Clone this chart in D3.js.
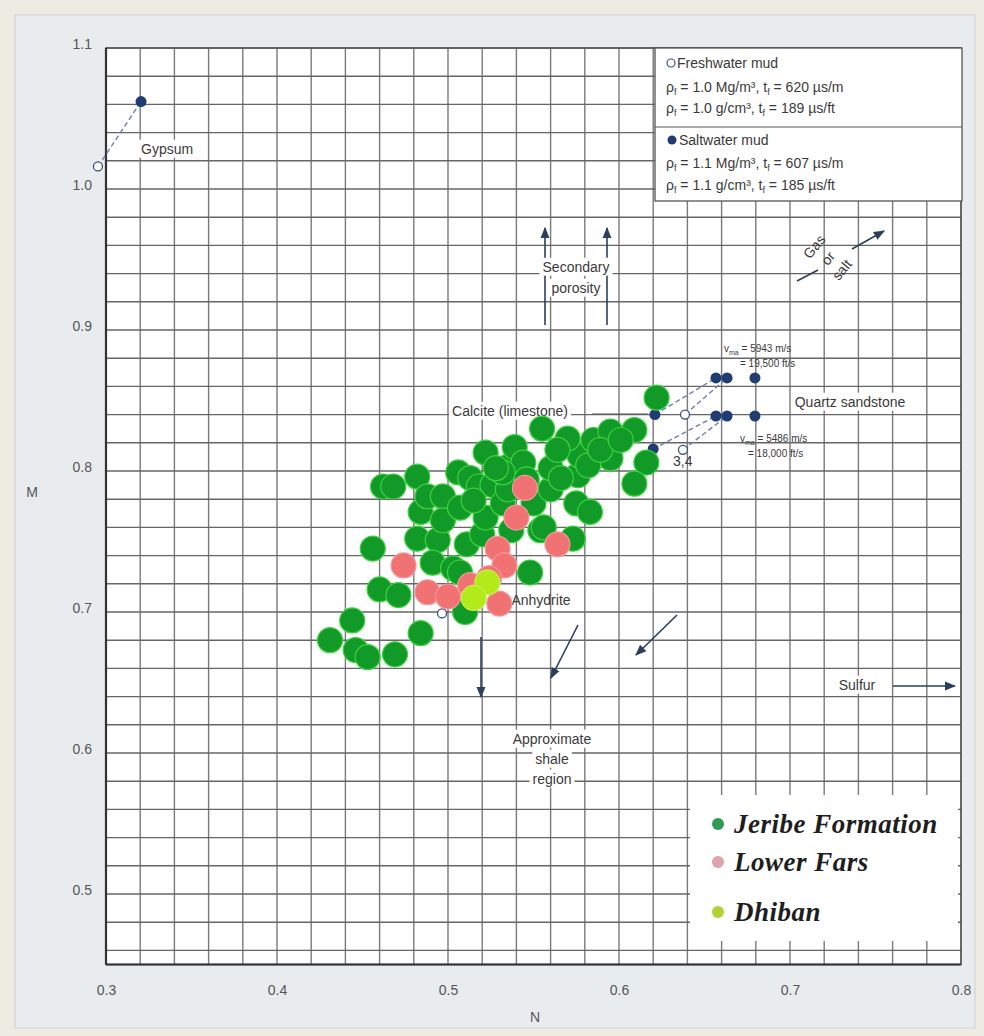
<!DOCTYPE html>
<html>
<head>
<meta charset="utf-8">
<script src="https://cdn.jsdelivr.net/npm/d3@7"></script>
<style>
  html, body { margin: 0; padding: 0; background: #eeebe3; }
  svg { display: block; font-family: "Liberation Sans", Arial, sans-serif; }
</style>
</head>
<body>
<svg id="chart" width="984" height="1036"></svg>
<script>
// ---- data: N (x) and M (y) values ----
const jeribe = [
  [0.431,0.680],[0.444,0.694],[0.446,0.673],[0.453,0.668],[0.469,0.670],[0.484,0.685],
  [0.510,0.700],[0.460,0.716],[0.471,0.712],[0.456,0.745],[0.462,0.789],[0.468,0.789],
  [0.482,0.796],[0.484,0.771],[0.482,0.752],[0.494,0.751],[0.491,0.735],[0.503,0.731],
  [0.507,0.728],[0.511,0.748],[0.520,0.755],[0.488,0.782],[0.497,0.782],[0.497,0.765],
  [0.507,0.774],[0.506,0.799],[0.513,0.795],[0.518,0.789],[0.522,0.813],[0.522,0.767],
  [0.526,0.790],[0.532,0.777],[0.535,0.803],[0.539,0.817],[0.544,0.806],[0.535,0.787],
  [0.537,0.758],[0.548,0.728],[0.554,0.758],[0.550,0.777],[0.556,0.760],[0.573,0.752],
  [0.560,0.787],[0.560,0.802],[0.575,0.777],[0.583,0.771],[0.576,0.797],[0.577,0.811],
  [0.555,0.830],[0.570,0.823],[0.585,0.822],[0.595,0.828],[0.609,0.829],[0.595,0.809],
  [0.616,0.806],[0.609,0.791],[0.622,0.852],[0.532,0.799],[0.582,0.804],[0.564,0.815],
  [0.589,0.815],[0.601,0.822],[0.515,0.779],[0.528,0.802],[0.566,0.795],[0.546,0.794]
];
const lowerFars = [
  [0.545,0.788],[0.540,0.767],[0.529,0.745],[0.474,0.733],[0.488,0.714],[0.500,0.711],
  [0.513,0.719],[0.530,0.706],[0.533,0.733],[0.564,0.748],[0.524,0.724]
];
const dhiban = [
  [0.523,0.721],[0.515,0.710]
];

// reference mineral points
const freshwaterPts = [[0.2953,1.016],[0.6386,0.840],[0.6374,0.815],[0.4965,0.699]];
const saltwaterPts = [[0.3205,1.062],[0.621,0.840],[0.620,0.8156],
  [0.6567,0.866],[0.6632,0.866],[0.6795,0.866],[0.6567,0.839],[0.6632,0.839],[0.6795,0.839]];
const dashedLinks = [
  [[0.2953,1.016],[0.3205,1.062]],
  [[0.621,0.840],[0.6567,0.866]],
  [[0.6386,0.840],[0.6632,0.866]],
  [[0.620,0.8156],[0.6567,0.839]],
  [[0.6374,0.815],[0.6632,0.839]]
];

const xTicks = [0.3,0.4,0.5,0.6,0.7,0.8];
const yTicks = [0.5,0.6,0.7,0.8,0.9,1.0,1.1];

const svg = d3.select("#chart");

// page panel
svg.append("rect").attr("x",15).attr("y",15).attr("width",960).attr("height",1013)
  .attr("fill","#e9ecef").attr("stroke","#cfd0d0").attr("stroke-width",1);

const x = d3.scaleLinear().domain([0.3,0.8]).range([106,961]);
const y = d3.scaleLinear().domain([0.45,1.1]).range([964.5,48]);

// plot area
svg.append("rect").attr("x",x(0.3)).attr("y",y(1.1))
  .attr("width",x(0.8)-x(0.3)).attr("height",y(0.45)-y(1.1)).attr("fill","#ffffff");

// grid every 0.02
const gx = d3.range(0, 26).map(i => 0.3 + i*0.02);
const gy = d3.range(0, 33).map(i => 0.46 + i*0.02);
const grid = svg.append("g").attr("stroke-width",1.4);
grid.selectAll("line.v").data(gx).join("line").attr("class","v").attr("stroke","#7a7a7a")
  .attr("x1",d=>x(d)).attr("x2",d=>x(d)).attr("y1",y(1.1)).attr("y2",y(0.45));
grid.selectAll("line.h").data(gy).join("line").attr("class","h").attr("stroke","#666")
  .attr("x1",x(0.3)).attr("x2",x(0.8)).attr("y1",d=>y(d)).attr("y2",d=>y(d));

// frame
svg.append("rect").attr("x",x(0.3)).attr("y",y(1.1))
  .attr("width",x(0.8)-x(0.3)).attr("height",y(0.45)-y(1.1))
  .attr("fill","none").attr("stroke","#555").attr("stroke-width",1.5);
svg.append("line").attr("x1",x(0.3)).attr("x2",x(0.3)).attr("y1",y(1.1)).attr("y2",y(0.45))
  .attr("stroke","#333").attr("stroke-width",2.2);
svg.append("line").attr("x1",x(0.3)).attr("x2",x(0.8)).attr("y1",y(0.45)).attr("y2",y(0.45))
  .attr("stroke","#333").attr("stroke-width",2);

// axes
const xAxis = svg.append("g").attr("transform",`translate(0,${y(0.45)+18})`)
  .call(d3.axisBottom(x).tickValues(xTicks).tickSize(0).tickFormat(d3.format(".1f")));
const yAxis = svg.append("g").attr("transform",`translate(${x(0.3)-11},-4)`)
  .call(d3.axisLeft(y).tickValues(yTicks).tickSize(0).tickFormat(d3.format(".1f")));
[xAxis, yAxis].forEach(a => {
  a.select(".domain").remove();
  a.selectAll("text").attr("font-size",14).attr("fill","#555")
    .style("font-family","Liberation Sans, Arial, sans-serif");
});
svg.append("text").attr("x",32).attr("y",497).attr("text-anchor","middle")
  .attr("font-size",14).attr("fill","#555").text("M");
svg.append("text").attr("x",535).attr("y",1022).attr("text-anchor","middle")
  .attr("font-size",14).attr("fill","#555").text("N");

// arrow marker
const defs = svg.append("defs");
defs.append("marker").attr("id","ah").attr("viewBox","0 0 10 10").attr("refX",9).attr("refY",5)
  .attr("markerWidth",7).attr("markerHeight",7).attr("orient","auto-start-reverse")
  .append("path").attr("d","M0,1 L10,5 L0,9 Z").attr("fill","#2b3f5c");

const ann = svg.append("g");
function arrow(x1,y1,x2,y2){
  ann.append("line").attr("x1",x1).attr("y1",y1).attr("x2",x2).attr("y2",y2)
    .attr("stroke","#2b3f5c").attr("stroke-width",1.6).attr("marker-end","url(#ah)");
}
function label(txt, cx, cy, opts={}){
  const t = ann.append("text").attr("x",cx).attr("y",cy)
    .attr("text-anchor",opts.anchor||"middle").attr("dominant-baseline","middle")
    .attr("font-size",opts.size||14).attr("fill",opts.fill||"#3a3a3a").text(txt);
  if (opts.bg) {
    const b = t.node().getBBox();
    ann.insert("rect", () => t.node()).attr("x",b.x-3).attr("y",b.y-1)
      .attr("width",b.width+6).attr("height",b.height+2).attr("fill","#fff");
  }
  return t;
}

// Secondary porosity arrows
arrow(545,325,545,228);
arrow(607,325,607,228);
label("Secondary",576,268,{bg:true});
label("porosity",576,289,{bg:true});

// Gas or salt
ann.append("line").attr("x1",797).attr("y1",281).attr("x2",818).attr("y2",270)
  .attr("stroke","#2b3f5c").attr("stroke-width",1.6);
arrow(852,249,884,231);
const gs = ann.append("g").attr("transform","translate(829,259) rotate(-50)");
["Gas","or","salt"].forEach((s,i)=>{
  gs.append("text").attr("x",0).attr("y",(i-1)*18).attr("text-anchor","middle")
    .attr("dominant-baseline","middle").attr("font-size",14).attr("fill","#3a3a3a").text(s);
});

// Calcite label and leader
ann.append("line").attr("x1",592).attr("y1",414).attr("x2",648).attr("y2",414)
  .attr("stroke","#555").attr("stroke-width",1.2);
label("Calcite (limestone)",510,412,{bg:true});
label("Quartz sandstone",850,403,{bg:true});

// velocity notes
function vma(xp, yp, v1, v2, x2){
  const t = ann.append("text").attr("x",xp).attr("y",yp).attr("font-size",10).attr("fill","#3a3a3a");
  t.append("tspan").text("v");
  t.append("tspan").attr("font-size",7).attr("dy",3).text("ma");
  t.append("tspan").attr("dy",-3).text(" = " + v1);
  ann.append("text").attr("x",x2).attr("y",yp+15).attr("font-size",10).attr("fill","#3a3a3a").text(v2);
}
vma(724,352,"5943 m/s","= 19,500 ft/s",740);
vma(740,442,"5486 m/s","= 18,000 ft/s",748);
label("3,4",673,462,{anchor:"start"});

// Anhydrite (under the points)
label("Anhydrite",541,601,{bg:false});

// shale arrows and label
arrow(481,637,481,697);
arrow(578,625,551,678);
arrow(677,615,636,655);
label("Approximate",552,740,{bg:true});
label("shale",552,760,{bg:true});
label("region",552,780,{bg:true});

// Sulfur
label("Sulfur",857,686,{bg:true});
arrow(893,686,955,686);

// Gypsum
label("Gypsum",141,150,{anchor:"start",bg:true});

// reference mineral marks
svg.append("g").selectAll("line").data(dashedLinks).join("line")
  .attr("x1",d=>x(d[0][0])).attr("y1",d=>y(d[0][1]))
  .attr("x2",d=>x(d[1][0])).attr("y2",d=>y(d[1][1]))
  .attr("stroke","#6a7fa8").attr("stroke-width",1.4).attr("stroke-dasharray","5,3");
svg.append("g").selectAll("circle").data(saltwaterPts).join("circle")
  .attr("cx",d=>x(d[0])).attr("cy",d=>y(d[1])).attr("r",5.5).attr("fill","#1f3c73");
svg.append("g").selectAll("circle").data(freshwaterPts).join("circle")
  .attr("cx",d=>x(d[0])).attr("cy",d=>y(d[1])).attr("r",4.5)
  .attr("fill","#fff").attr("stroke","#35507f").attr("stroke-width",1.3);

// sample points
function dots(data, fill, stroke){
  svg.append("g").selectAll("circle").data(data).join("circle")
    .attr("cx",d=>x(d[0])).attr("cy",d=>y(d[1])).attr("r",12.5)
    .attr("fill",fill).attr("stroke",stroke).attr("stroke-width",1.2);
}
dots(jeribe,"#119a28","#3dd33d");
dots(lowerFars,"#f07272","#f59a9a");
dots(dhiban,"#b2ea1a","#c8f050");

// top-right legend
const lg = svg.append("g");
lg.append("rect").attr("x",655).attr("y",48).attr("width",307).attr("height",153)
  .attr("fill","#fff").attr("stroke","#555").attr("stroke-width",1.3);
lg.append("line").attr("x1",655).attr("x2",962).attr("y1",127).attr("y2",127)
  .attr("stroke","#555").attr("stroke-width",1.2);
lg.append("circle").attr("cx",671).attr("cy",63).attr("r",4).attr("fill","#fff")
  .attr("stroke","#35507f").attr("stroke-width",1.2);
lg.append("circle").attr("cx",672).attr("cy",140).attr("r",4.5).attr("fill","#1f3c73");
function ltext(xp, yp, parts){
  const t = lg.append("text").attr("x",xp).attr("y",yp).attr("font-size",14).attr("fill","#3a3a3a");
  parts.forEach(p=>{
    const s = t.append("tspan").text(p[0]);
    if (p[1]==="sub") s.attr("font-size",9).attr("dy",3);
    if (p[1]==="up") s.attr("dy",-3);
  });
}
ltext(677,68,[["Freshwater mud"]]);
ltext(666,92,[["ρ"],["f","sub"],[" = 1.0 Mg/m³, t","up"],["f","sub"],[" = 620 µs/m","up"]]);
ltext(666,113,[["ρ"],["f","sub"],[" = 1.0 g/cm³, t","up"],["f","sub"],[" = 189 µs/ft","up"]]);
ltext(679,145,[["Saltwater mud"]]);
ltext(666,168,[["ρ"],["f","sub"],[" = 1.1 Mg/m³, t","up"],["f","sub"],[" = 607 µs/m","up"]]);
ltext(666,190,[["ρ"],["f","sub"],[" = 1.1 g/cm³, t","up"],["f","sub"],[" = 185 µs/ft","up"]]);

// bottom-right legend
const series = ["Jeribe Formation","Lower Fars","Dhiban"];
const legendColors = ["#2f9a55","#e0a3ad","#b2d233"];
const legendY = [824,862,912];
const bl = svg.append("g");
bl.append("rect").attr("x",690).attr("y",795).attr("width",268).attr("height",146).attr("fill","#fff");
series.forEach((s,i)=>{
  bl.append("circle").attr("cx",718).attr("cy",legendY[i]).attr("r",6).attr("fill",legendColors[i]);
  bl.append("text").attr("x",734).attr("y",legendY[i]+9)
    .style("font-family","'Liberation Serif', 'Times New Roman', serif")
    .attr("font-weight","bold").attr("font-style","italic").attr("font-size",27)
    .attr("letter-spacing",0.5).attr("fill","#1e1e1e").text(s);
});
</script>
</body>
</html>
